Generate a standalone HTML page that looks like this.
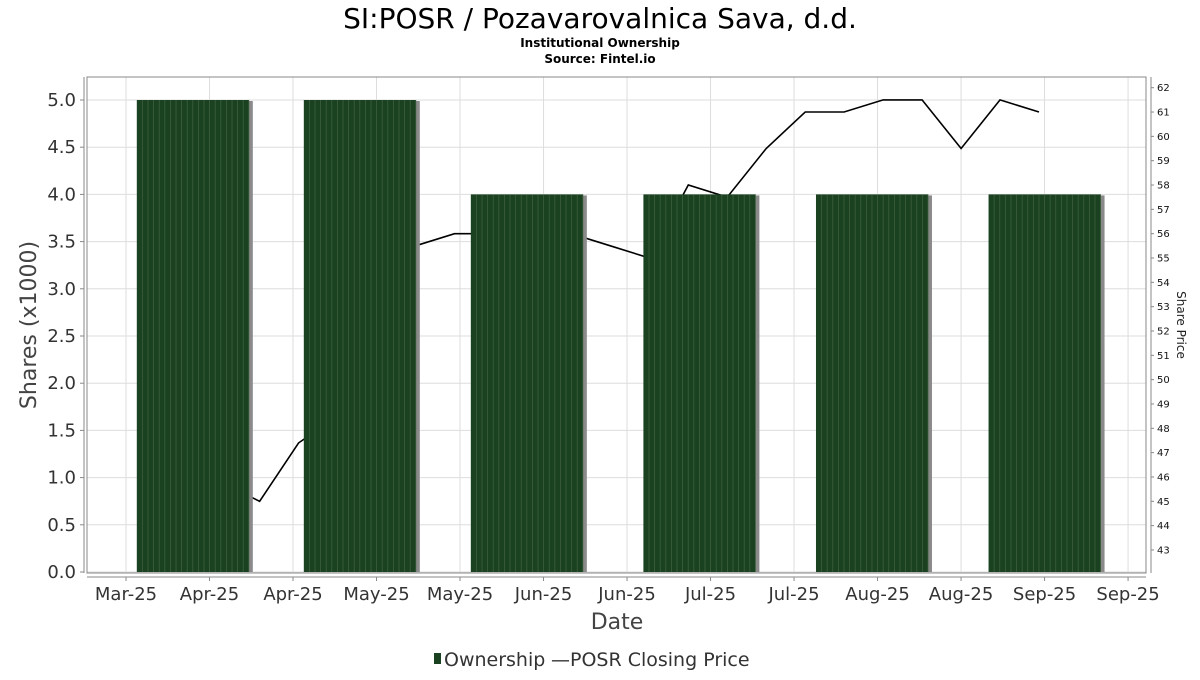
<!DOCTYPE html>
<html><head><meta charset="utf-8"><style>
body{margin:0;background:#fff;font-family:"Liberation Sans","DejaVu Sans",sans-serif}
svg text{font-family:"DejaVu Sans","Liberation Sans",sans-serif}
</style></head><body>
<svg id="chart" width="1200" height="675" viewBox="0 0 1200 675" xmlns="http://www.w3.org/2000/svg">
<text x="600" y="28" text-anchor="middle" font-size="28" fill="#000">SI:POSR / Pozavarovalnica Sava, d.d.</text>
<text x="600" y="47" text-anchor="middle" font-size="12" font-weight="bold" fill="#000">Institutional Ownership</text>
<text x="600" y="63" text-anchor="middle" font-size="12" font-weight="bold" fill="#000">Source: Fintel.io</text>
<g id="grid"></g><g id="line"></g><g id="bars"></g><g id="axes"></g>
<rect x="87" y="77" width="1059" height="496" fill="none" stroke="#888" stroke-width="1"/>
<text transform="translate(36,325) rotate(-90)" text-anchor="middle" font-size="22" fill="#444">Shares (x1000)</text>
<text transform="translate(1177,325) rotate(90)" text-anchor="middle" font-size="12" fill="#222">Share Price</text>
<text x="617" y="629" text-anchor="middle" font-size="22" fill="#444">Date</text>
<g>
<rect x="434" y="653" width="7" height="11" fill="#1a4220"/>
<text x="444" y="666" font-size="19" fill="#333">Ownership</text>
<text x="551" y="666" font-size="19" fill="#333">—POSR Closing Price</text>
</g>
</svg>
<script>
const tickLabels=["Mar-25","Apr-25","Apr-25","May-25","May-25","Jun-25","Jun-25","Jul-25","Jul-25","Aug-25","Aug-25","Sep-25","Sep-25"];
const tickDates=["2025-03-25","2025-04-09","2025-04-24","2025-05-09","2025-05-24","2025-06-08","2025-06-23","2025-07-08","2025-07-23","2025-08-07","2025-08-22","2025-09-06","2025-09-21"];
const barDates=["2025-04-06","2025-05-06","2025-06-05","2025-07-06","2025-08-06","2025-09-06"];
const barValues=[5,5,4,4,4,4];
const priceDates=["2025-04-11","2025-04-18","2025-04-25","2025-05-02","2025-05-09","2025-05-16","2025-05-23","2025-05-30","2025-06-06","2025-06-13","2025-06-20","2025-06-27","2025-07-04","2025-07-11","2025-07-18","2025-07-25","2025-08-01","2025-08-08","2025-08-15","2025-08-22","2025-08-29","2025-09-05"];
const priceValues=[45.8,45.0,47.4,48.5,51.0,55.5,56.0,56.0,56.0,56.0,55.5,55.0,58.0,57.5,59.5,61.0,61.0,61.5,61.5,59.5,61.5,61.0];
const yTicks=[0,0.5,1,1.5,2,2.5,3,3.5,4,4.5,5];
const y2Ticks=[43,44,45,46,47,48,49,50,51,52,53,54,55,56,57,58,59,60,61,62];

const NS="http://www.w3.org/2000/svg";
const day=864e5,t0=Date.parse("2025-03-25");
function xS(d){return 126+(Date.parse(d)-t0)/day*5.567;}
function yS(v){return 572-v*94.4;}
function y2S(p){return 87.7+(62-p)*24.33;}
function mk(tag,attrs,parent){const e=document.createElementNS(NS,tag);for(const k in attrs)e.setAttribute(k,attrs[k]);document.getElementById(parent).appendChild(e);return e;}

yTicks.forEach(v=>{
  const g=mk("line",{x1:87,x2:1146,y1:yS(v),y2:yS(v),stroke:"#ddd","stroke-width":1},"grid");
  
  
  const t=mk("line",{x1:80,x2:84,y1:yS(v),y2:yS(v),stroke:"#888"},"axes");
  
  
  const l=mk("text",{x:76,y:yS(v)+6,"text-anchor":"end","font-size":18,fill:"#333"},"axes");
  l.textContent=v.toFixed(1);
  
  
});
tickDates.forEach((d,i)=>{
  const x=xS(d);
  const g=mk("line",{x1:x,x2:x,y1:77,y2:573,stroke:"#ddd","stroke-width":1},"grid");
  
  
  const t=mk("line",{x1:x,x2:x,y1:577,y2:581,stroke:"#888"},"axes");
  
  
  const l=mk("text",{x:x,y:600,"text-anchor":"middle","font-size":18,fill:"#333"},"axes");
  l.textContent=tickLabels[i];
  
  
});
const al=mk("line",{x1:84,x2:84,y1:77,y2:573,stroke:"#888"},"axes");


const ab=mk("line",{x1:87,x2:1146,y1:577,y2:577,stroke:"#888"},"axes");


const ar=mk("line",{x1:1151,x2:1151,y1:77,y2:573,stroke:"#888"},"axes");


y2Ticks.forEach(p=>{
  const t=mk("line",{x1:1151,x2:1154,y1:y2S(p),y2:y2S(p),stroke:"#888"},"axes");
  
  
  const l=mk("text",{x:1157,y:y2S(p)+3.5,"font-size":10,fill:"#111"},"axes");
  l.textContent=p;
  
  
});
barDates.forEach((d,i)=>{
  const cx=xS(d),w=112,x=cx-w/2,y=yS(barValues[i]),h=572-y;
  const s=mk("rect",{x:x+4,y:y+1,width:w,height:h-1,fill:"#8a8a8a"},"bars");
  
  
  const b=mk("rect",{x:x,y:y,width:w,height:h,fill:"#1a4220"},"bars");
  
  
  for(let k=5.6;k<w;k+=5.6){
    const st=mk("line",{x1:x+k,x2:x+k,y1:y,y2:572,stroke:"#3d5f3d","stroke-width":0.8},"bars");
    
    
  }
});
const pts=priceDates.map((d,i)=>xS(d).toFixed(1)+","+y2S(priceValues[i]).toFixed(1)).join(" ");
const pl=mk("polyline",{points:pts,fill:"none",stroke:"#000","stroke-width":1.6},"line");


</script>
</body></html>
